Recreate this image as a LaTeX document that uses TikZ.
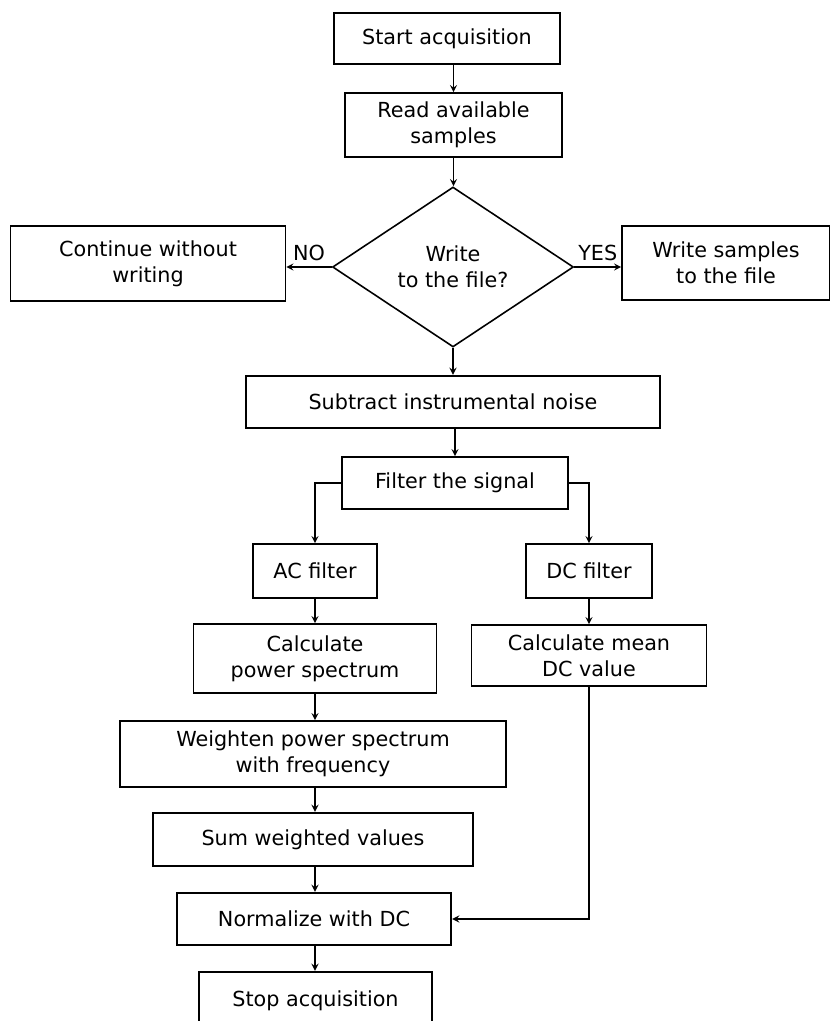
\documentclass[tikz,border=0pt]{standalone}
\usepackage{fontspec}
\setmainfont{DejaVu Sans}
\usepackage{tikz}
\usetikzlibrary{shapes.geometric}
\usetikzlibrary{positioning, arrows}
\usetikzlibrary{calc}

\begin{document}
\begin{tikzpicture}[x=0.02cm, y=-0.02cm, >=stealth,
    font=\fontsize{11.8}{15}\selectfont,
    block/.style={draw, rectangle, line width=0.9pt, align=center, inner sep=0pt},
    thickblock/.style={block, line width=1.4pt},
    decision/.style={draw, diamond, aspect=1.5, line width=0.9pt, align=center, inner sep=0pt,
        minimum width=4.82cm, minimum height=3.2cm},
    every edge/.style={draw, line width=0.8pt}]
    \useasboundingbox (0,0) rectangle (829,1021);

    \node[thickblock, minimum width=4.52cm, minimum height=1.02cm] (start) at (447,38.5) {Start acquisition};
    \node[block, minimum width=4.34cm, minimum height=1.28cm] (read) at (453.5,125) {Read available\\samples};
    \node[decision] (dec) at (453,267) {Write\\to the file?};
    \node[block, minimum width=5.5cm, minimum height=1.5cm] (cont) at (148,263.5) {Continue without\\writing};
    \node[block, minimum width=4.16cm, minimum height=1.48cm] (wr) at (726,263) {Write samples\\to the file};
    \node[thickblock, minimum width=8.28cm, minimum height=1.04cm] (sub) at (453,402) {Subtract instrumental noise};
    \node[block, minimum width=4.52cm, minimum height=1.04cm] (filt) at (455,483) {Filter the signal};
    \node[block, minimum width=2.48cm, minimum height=1.08cm] (ac) at (315,571) {AC filter};
    \node[block, minimum width=2.52cm, minimum height=1.08cm] (dcf) at (589,571) {DC filter};
    \node[block, minimum width=4.86cm, minimum height=1.38cm] (pow) at (315,658.5) {Calculate\\power spectrum};
    \node[block, minimum width=4.7cm, minimum height=1.22cm] (mean) at (589,655.5) {Calculate mean\\DC value};
    \node[block, minimum width=7.72cm, minimum height=1.32cm] (wgt) at (313,754) {Weighten power spectrum\\with frequency};
    \node[thickblock, minimum width=6.4cm, minimum height=1.06cm] (sum) at (313,839.5) {Sum weighted values};
    \node[thickblock, minimum width=5.48cm, minimum height=1.04cm] (norm) at (314,919) {Normalize with DC};
    \node[thickblock, minimum width=4.66cm, minimum height=1.16cm] (stop) at (315.5,1001) {Stop acquisition};

    \path[->]
    (start.south -| read.north) edge (read.north)
    (read.south) edge (read.south |- dec.north)
    (dec.west) edge node[above] {NO} (dec.west -| cont.east)
    (dec.east) edge node[above] {YES} (dec.east -| wr.west)
    (dec.south) edge (dec.south |- sub.north)
    (sub.south -| filt.north) edge (filt.north)
    (ac.south) edge (pow.north)
    (dcf.south) edge (mean.north)
    (pow.south) edge (pow.south |- wgt.north)
    (pow.south |- wgt.south) edge (pow.south |- sum.north)
    (pow.south |- sum.south) edge (pow.south |- norm.north)
    (pow.south |- norm.south) edge (pow.south |- stop.north);

    \draw[->, line width=0.8pt] (filt.west) -| (ac.north);
    \draw[->, line width=0.8pt] (filt.east) -| (dcf.north);
    \draw[->, line width=0.8pt] (mean.south) |- (norm.east);
\end{tikzpicture}
\end{document}
